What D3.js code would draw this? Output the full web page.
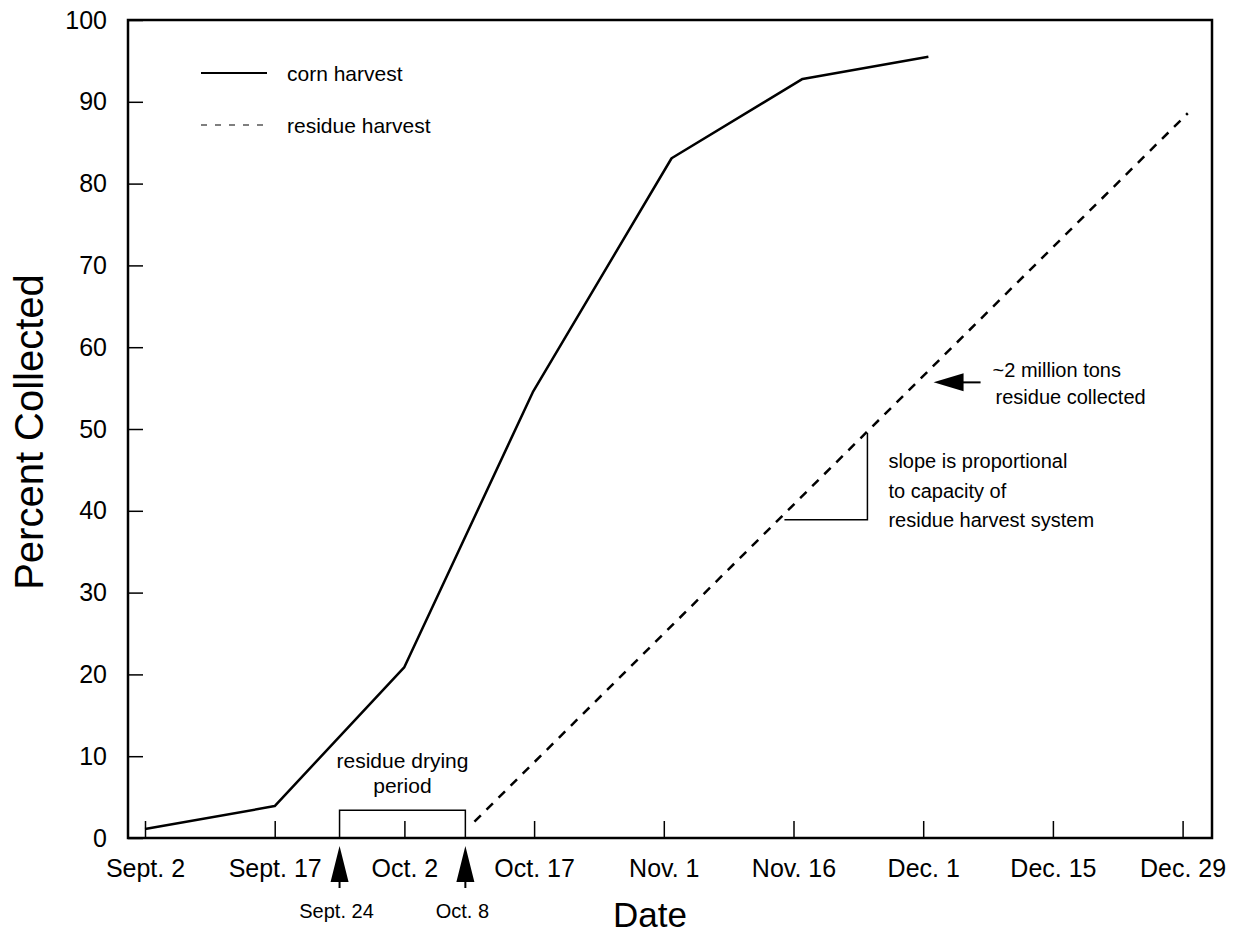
<!DOCTYPE html>
<html>
<head>
<meta charset="utf-8">
<script src="https://cdn.jsdelivr.net/npm/d3@7"></script>
<style>
  body { margin: 0; background: #fff; }
  text { font-family: "Liberation Sans", Arial, Helvetica, sans-serif; fill: #000; }
</style>
</head>
<body>
<script>
// x positions are in "tick periods": 0 = Sept. 2, 1 = Sept. 17, ... (the ticks are evenly spaced)
var dateLabels = ["Sept. 2", "Sept. 17", "Oct. 2", "Oct. 17", "Nov. 1", "Nov. 16", "Dec. 1", "Dec. 15", "Dec. 29"];
var percentTicks = [0, 10, 20, 30, 40, 50, 60, 70, 80, 90, 100];

// corn harvest
var cornX = [0, 1.0, 2.0, 2.99, 4.06, 5.07, 6.04];
var cornY = [1.1, 3.9, 20.9, 54.5, 83.1, 92.8, 95.5];

// residue harvest (straight dashed line)
var residueX = [2.54, 8.04];
var residueY = [2.0, 88.6];

// markers under the axis
var markerLabels = ["Sept. 24", "Oct. 8"];
var markerX = [1.50, 2.47];
var dryingTop = 3.4;

// slope triangle
var slopeX = [4.93, 5.57];
var slopeY = [38.9, 49.5];

// "~2 million tons" arrow tip
var tonsX = 6.08, tonsY = 55.7;

var width = 1233, height = 937;
var margin = {top: 20, right: 21, bottom: 99, left: 128};
var w = width - margin.left - margin.right,
    h = height - margin.top - margin.bottom;

var svg = d3.select("body").append("svg")
    .attr("width", width)
    .attr("height", height);

var g = svg.append("g")
    .attr("transform", "translate(" + margin.left + "," + margin.top + ")");

// 145px = Sept. 2, 129.7px per tick period
var x = d3.scaleLinear()
    .domain([(128 - 145) / 129.7, (1212 - 145) / 129.7])
    .range([0, w]);
var y = d3.scaleLinear()
    .domain([0, 100])
    .range([h, 0]);

// axes, ticks pointing inward
var xAxis = d3.axisBottom(x)
    .tickValues(d3.range(dateLabels.length))
    .tickFormat(function(d){ return dateLabels[d]; })
    .tickSize(-17)
    .tickPadding(21);
var yAxis = d3.axisLeft(y)
    .tickValues(percentTicks)
    .tickSize(-15)
    .tickPadding(21);

var gx = g.append("g").attr("transform", "translate(0," + h + ")").call(xAxis);
var gy = g.append("g").call(yAxis);
[gx, gy].forEach(function(a){
    a.select(".domain").remove();
    a.selectAll(".tick line").attr("stroke", "#000").attr("stroke-width", 1.5);
    a.selectAll(".tick text").style("font-size", "25px").attr("fill", "#000");
});

// frame
g.append("rect")
    .attr("x", 0).attr("y", 0)
    .attr("width", w).attr("height", h)
    .attr("fill", "none")
    .attr("stroke", "#000")
    .attr("stroke-width", 2.5);

var line = d3.line()
    .x(function(d){ return x(d[0]); })
    .y(function(d){ return y(d[1]); });

var corn = d3.zip(cornX, cornY);
var residue = d3.zip(residueX, residueY);

g.append("path")
    .datum(corn)
    .attr("d", line)
    .attr("fill", "none")
    .attr("stroke", "#000")
    .attr("stroke-width", 2.5)
    .attr("stroke-linejoin", "round");

g.append("path")
    .datum(residue)
    .attr("d", line)
    .attr("fill", "none")
    .attr("stroke", "#000")
    .attr("stroke-width", 2.5)
    .attr("stroke-dasharray", "9,8");

// legend
var legend = g.append("g");
legend.append("line")
    .attr("x1", 73).attr("x2", 139).attr("y1", 53).attr("y2", 53)
    .attr("stroke", "#000").attr("stroke-width", 2);
legend.append("text")
    .attr("x", 159).attr("y", 61)
    .style("font-size", "21px")
    .text("corn harvest");
legend.append("line")
    .attr("x1", 73).attr("x2", 139).attr("y1", 105).attr("y2", 105)
    .attr("stroke", "#000").attr("stroke-width", 1.2)
    .attr("stroke-dasharray", "6,8");
legend.append("text")
    .attr("x", 159).attr("y", 113)
    .style("font-size", "21px")
    .text("residue harvest");

// residue drying bracket
g.append("path")
    .attr("d", "M" + x(markerX[0]) + "," + y(0) + "V" + y(dryingTop) + "H" + x(markerX[1]) + "V" + y(0))
    .attr("fill", "none")
    .attr("stroke", "#000")
    .attr("stroke-width", 1.5);
var midDry = (x(markerX[0]) + x(markerX[1])) / 2;
g.append("text")
    .attr("x", midDry).attr("y", y(dryingTop) - 42)
    .attr("text-anchor", "middle")
    .style("font-size", "21px")
    .text("residue drying");
g.append("text")
    .attr("x", midDry).attr("y", y(dryingTop) - 17)
    .attr("text-anchor", "middle")
    .style("font-size", "21px")
    .text("period");

// up arrows below the axis
markerX.forEach(function(mx, i){
    var px = x(mx);
    g.append("path")
        .attr("d", "M" + px + "," + (h + 8) + "L" + (px + 9) + "," + (h + 44) + "L" + (px - 9) + "," + (h + 44) + "Z")
        .attr("fill", "#000");
    g.append("line")
        .attr("x1", px).attr("x2", px)
        .attr("y1", h + 40).attr("y2", h + 50)
        .attr("stroke", "#000").attr("stroke-width", 2);
    g.append("text")
        .attr("x", px - 3).attr("y", h + 80)
        .attr("text-anchor", "middle")
        .style("font-size", "20px")
        .text(markerLabels[i]);
});

// slope triangle
g.append("path")
    .attr("d", "M" + x(slopeX[0]) + "," + y(slopeY[0]) + "H" + x(slopeX[1]) + "V" + y(slopeY[1]))
    .attr("fill", "none")
    .attr("stroke", "#000")
    .attr("stroke-width", 1.5);
["slope is proportional", "to capacity of", "residue harvest system"].forEach(function(t, i){
    g.append("text")
        .attr("x", x(slopeX[1]) + 21)
        .attr("y", y(slopeY[1]) + 35 + i * 29.5)
        .style("font-size", "20px")
        .text(t);
});

// ~2 million tons arrow
var tx = x(tonsX), ty = y(tonsY);
g.append("path")
    .attr("d", "M" + tx + "," + ty + "L" + (tx + 30) + "," + (ty - 9) + "L" + (tx + 30) + "," + (ty + 9) + "Z")
    .attr("fill", "#000");
g.append("line")
    .attr("x1", tx + 28).attr("x2", tx + 47)
    .attr("y1", ty).attr("y2", ty)
    .attr("stroke", "#000").attr("stroke-width", 2);
g.append("text")
    .attr("x", tx + 59).attr("y", ty - 5)
    .style("font-size", "20px")
    .text("~2 million tons");
g.append("text")
    .attr("x", tx + 62).attr("y", ty + 22)
    .style("font-size", "20px")
    .text("residue collected");

// axis titles
svg.append("text")
    .attr("x", 650).attr("y", 927)
    .attr("text-anchor", "middle")
    .style("font-size", "35px")
    .text("Date");
svg.append("text")
    .attr("transform", "translate(43,432) rotate(-90)")
    .attr("text-anchor", "middle")
    .style("font-size", "40px")
    .text("Percent Collected");
</script>
</body>
</html>
